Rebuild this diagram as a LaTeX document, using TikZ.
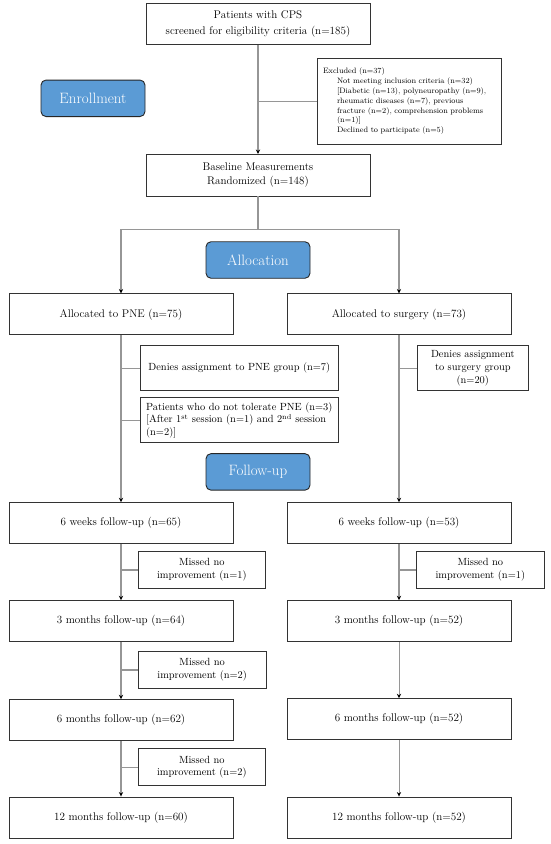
\documentclass[tikz,border=0pt]{standalone}
\usetikzlibrary{arrows.meta}
\definecolor{lin}{HTML}{969696}
\definecolor{blu}{HTML}{5B9BD5}
\newcommand\mainfs{\fontsize{11.1}{15.6}\selectfont}
\newcommand\smallfs{\fontsize{10.4}{12.8}\selectfont}
\newcommand\tinyfs{\fontsize{7.8}{9.9}\selectfont}
\newcommand\phasefs{\fontsize{15}{17}\selectfont}
\begin{document}
\begin{tikzpicture}[x=1pt,y=-1pt,
  box/.style={draw=black!80,line width=0.9pt,fill=white,inner sep=0pt,align=center,font=\mainfs},
  bigbox/.style={box,minimum width=224pt,minimum height=41pt},
  sidebox/.style={box,font=\smallfs},
  phase/.style={draw=black!85,line width=0.9pt,fill=blu,rounded corners=5pt,text=white,font=\phasefs,minimum width=104pt,minimum height=36.5pt,inner sep=0pt},
  lineplain/.style={draw=lin,line width=1.1pt},
  conn/.style={draw=lin,line width=1.1pt,-{Stealth[length=4.5pt,width=4.2pt,black]}},
  connthin/.style={draw=lin,line width=0.7pt,-{Stealth[length=4.5pt,width=4.2pt,black]}}
]
\useasboundingbox (0,0) rectangle (550,844);

% phases
\node[phase] (enr) at (93,98.3) {Enrollment};
\node[phase] (alo) at (258,260) {Allocation};
\node[phase] (fol) at (258,471.9) {Follow-up};

% enrollment
\node[bigbox] (top) at (258,23.8) {Patients with CPS\\screened for eligibility criteria (n=185)};
\node[box,minimum width=184pt,minimum height=85.7pt,text width=172pt,align=left,font=\tinyfs] (excl) at (409,101.2)
  {Excluded (n=37)\\
   \hspace*{14pt}Not meeting inclusion criteria (n=32)\\
   \hspace*{14pt}{[}Diabetic (n=13), polyneuropathy (n=9),\\
   \hspace*{14pt}rheumatic diseases (n=7), previous\\
   \hspace*{14pt}fracture (n=2), comprehension problems\\
   \hspace*{14pt}(n=1)]\\
   \hspace*{14pt}Declined to participate (n=5)};
\node[bigbox,minimum height=41.5pt,font=\fontsize{11.1}{14.4}\selectfont] (base) at (258,175.2) {Baseline Measurements\\Randomized (n=148)};

% allocation
\node[bigbox,minimum height=40.8pt] (pne) at (121,314.3) {Allocated to PNE (n=75)};
\node[bigbox,minimum height=40.8pt] (surg) at (399,314.3) {Allocated to surgery (n=73)};
\node[sidebox,minimum width=198.6pt,minimum height=45pt] (denyp) at (239.3,368.2) {Denies assignment to PNE group (n=7)};
\node[sidebox,minimum width=110.5pt,minimum height=45pt] (denys) at (472.8,368.2) {Denies assignment\\to surgery group\\(n=20)};
\node[sidebox,minimum width=198.6pt,minimum height=45pt,align=left] (tol) at (239.3,420.2)
  {Patients who do not tolerate PNE (n=3)\\{[}After 1\textsuperscript{st} session (n=1) and 2\textsuperscript{nd} session\\(n=2)]\hspace*{140pt}};

% follow-up left
\node[bigbox] (w6L) at (121,523.2) {6 weeks follow-up (n=65)};
\node[bigbox] (m3L) at (121,621.2) {3 months follow-up (n=64)};
\node[bigbox] (m6L) at (121,720.2) {6 months follow-up (n=62)};
\node[bigbox] (m12L) at (121,817.5) {12 months follow-up (n=60)};
\node[sidebox,minimum width=127.6pt,minimum height=36.6pt] (x1L) at (201.8,570) {Missed no\\improvement (n=1)};
\node[sidebox,minimum width=127.6pt,minimum height=36.6pt] (x2L) at (202.2,670) {Missed no\\improvement (n=2)};
\node[sidebox,minimum width=127.6pt,minimum height=36.6pt] (x3L) at (201.8,767.1) {Missed no\\improvement (n=2)};

% follow-up right
\node[bigbox] (w6R) at (399,523.2) {6 weeks follow-up (n=53)};
\node[bigbox] (m3R) at (399,621.2) {3 months follow-up (n=52)};
\node[bigbox] (m6R) at (399,719.2) {6 months follow-up (n=52)};
\node[bigbox] (m12R) at (399,817.5) {12 months follow-up (n=52)};
\node[sidebox,minimum width=127.6pt,minimum height=36.6pt] (x1R) at (480.3,570) {Missed no\\improvement (n=1)};

% connectors: enrollment
\draw[conn] (top) -- (base);
\draw[lineplain] (top.south |- excl.west) -- (excl.west);
\coordinate (br) at (258,229.3);
\draw[lineplain] (base.south) -- (br);
\draw[conn] (br) -| (pne.north);
\draw[conn] (br) -| (surg.north);

% allocation to follow-up
\draw[conn] (pne) -- (w6L);
\draw[lineplain] (pne.south |- denyp.west) -- (denyp.west);
\draw[lineplain] (pne.south |- tol.west) -- (tol.west);
\draw[conn] (surg) -- (w6R);
\draw[lineplain] (surg.south |- denys.west) -- (denys.west);

% left chain
\draw[conn] (w6L) -- (m3L);
\draw[lineplain] (w6L.south |- x1L.west) -- (x1L.west);
\draw[conn] (m3L) -- (m6L);
\draw[lineplain] (m3L.south |- x2L.west) -- (x2L.west);
\draw[conn] (m6L) -- (m12L);
\draw[lineplain] (m6L.south |- x3L.west) -- (x3L.west);

% right chain
\draw[conn] (w6R) -- (m3R);
\draw[lineplain] (w6R.south |- x1R.west) -- (x1R.west);
\draw[connthin] (m3R) -- (m6R);
\draw[connthin] (m6R) -- (m12R);
\end{tikzpicture}
\end{document}
